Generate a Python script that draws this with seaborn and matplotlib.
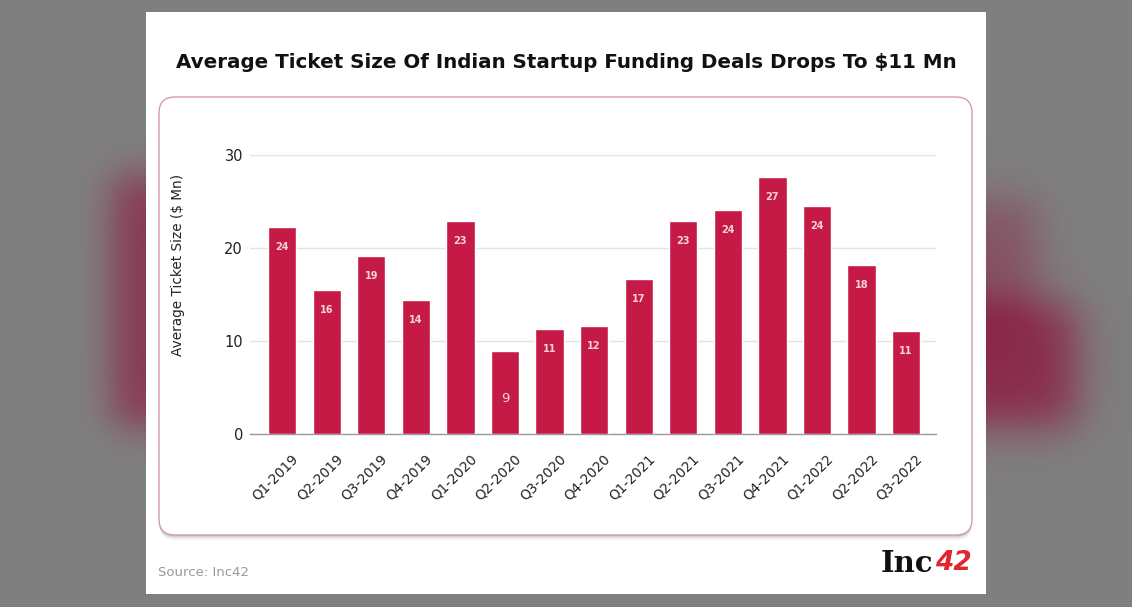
import numpy as np
import pandas as pd
import matplotlib
matplotlib.use("Agg")
import matplotlib.pyplot as plt
import matplotlib.patches as mpatches
from matplotlib.transforms import ScaledTranslation
import seaborn as sns

# data
quarters = ["Q1-2019", "Q2-2019", "Q3-2019", "Q4-2019", "Q1-2020", "Q2-2020", "Q3-2020",
            "Q4-2020", "Q1-2021", "Q2-2021", "Q3-2021", "Q4-2021", "Q1-2022", "Q2-2022", "Q3-2022"]
bar_heights = [22.3, 15.5, 19.1, 14.4, 22.9, 8.9, 11.3, 11.6, 16.7, 22.9, 24.1, 27.6, 24.5, 18.2, 11.1]
bar_labels = ["24", "16", "19", "14", "23", "9", "11", "12", "17", "23", "24", "27", "24", "18", "11"]

title = "Average Ticket Size Of Indian Startup Funding Deals Drops To $11 Mn"
ylabel = "Average Ticket Size ($ Mn)"
source = "Source: Inc42"

BAR = "#c41a45"
W, H = 1132, 607

sns.set_theme(style="white")
plt.rcParams["font.family"] = ["DejaVu Sans"]

fig = plt.figure(figsize=(W / 100, H / 100), dpi=100)

# background layer in pixel coords
bg = fig.add_axes([0, 0, 1, 1])
bg.set_xlim(0, W)
bg.set_ylim(H, 0)
bg.axis("off")

yy, xx = np.mgrid[0:H, 0:W]
def soft_box(x0, x1, y0, y1, s):
    sx = 1 / (1 + np.exp(-(xx - x0) / s)) * 1 / (1 + np.exp((xx - x1) / s))
    sy = 1 / (1 + np.exp(-(yy - y0) / s)) * 1 / (1 + np.exp((yy - y1) / s))
    return sx * sy
gray = np.array([0.5, 0.5, 0.5])
red = np.array([0.55, 0.11, 0.26])
m = np.clip(0.7 * soft_box(112, 300, 175, 425, 11)
            + 0.45 * soft_box(900, 1035, 200, 320, 13)
            + 0.85 * soft_box(900, 1075, 305, 425, 13), 0, 1)
img = gray[None, None, :] * (1 - m[..., None]) + red[None, None, :] * m[..., None]
bg.imshow(img, extent=(0, W, H, 0), aspect="auto", zorder=0)

# white card
bg.add_patch(mpatches.Rectangle((146, 12), 840, 582, facecolor="white", edgecolor="none", zorder=1))
# inner rounded panel with soft shadow
for k, a in [(5, 0.05), (3, 0.08), (1.5, 0.12)]:
    bg.add_patch(mpatches.FancyBboxPatch((159, 97 + k), 813, 438, boxstyle="round,pad=0,rounding_size=16",
                                         facecolor="black", edgecolor="none", alpha=a, zorder=2))
bg.add_patch(mpatches.FancyBboxPatch((159, 97), 813, 438, boxstyle="round,pad=0,rounding_size=16",
                                     facecolor="white", edgecolor="#d59aad", linewidth=1.0, zorder=3))

bg.text(566, 62, title, ha="center", va="center", fontsize=14.3, fontweight="bold", color="#111111", zorder=4)
bg.text(158, 573, source, ha="left", va="center", fontsize=9.5, color="#9a9a9a", zorder=4)
bg.text(933, 563, "Inc", ha="right", va="center", fontsize=21, fontweight="bold",
        family="DejaVu Serif", color="#111111", zorder=4)
bg.text(935, 563, "42", ha="left", va="center", fontsize=19, fontweight="bold", style="italic",
        color="#e0262e", zorder=4)

# chart
ax = fig.add_axes([250 / W, 1 - 434 / H, 686 / W, 279 / H])
ax.patch.set_alpha(0)
df = pd.DataFrame({"quarter": quarters, "value": bar_heights})
sns.barplot(data=df, x="quarter", y="value", color=BAR, saturation=1, width=0.635, ax=ax, zorder=3)

ax.set_xlim(-0.72, 14.67)
ax.set_ylim(0, 30)
ax.set_yticks([0, 10, 20, 30])
ax.yaxis.grid(True, color="#e3e3e3", linewidth=1)
ax.set_axisbelow(True)
for s in ["top", "right", "left"]:
    ax.spines[s].set_visible(False)
ax.spines["bottom"].set_color("#9a9a9a")
ax.spines["bottom"].set_linewidth(1)
ax.tick_params(axis="both", length=0)
ax.tick_params(axis="y", pad=5, labelsize=10.5, labelcolor="#222222")
ax.set_xlabel("")
ax.set_ylabel(ylabel, fontsize=9.8, color="#222222")
ax.yaxis.set_label_coords(-0.095, 0.606)
ax.set_xticks(range(len(quarters)))
ax.set_xticklabels(quarters, rotation=45, ha="right", rotation_mode="anchor", fontsize=9.8, color="#222222")
for lab in ax.get_xticklabels():
    lab.set_transform(lab.get_transform() + ScaledTranslation(6.5 / 72, -9 / 72, fig.dpi_scale_trans))

for i, (h, t) in enumerate(zip(bar_heights, bar_labels)):
    if float(t) < 10:
        ax.text(i, h / 2 - 0.6, t, ha="center", va="center", fontsize=9.5, color="#f6d3dc", zorder=4)
    else:
        ax.annotate(t, (i, h), xytext=(0, -20), textcoords="offset pixels",
                    ha="center", va="center", fontsize=7, fontweight="bold", color="#f6d3dc", zorder=4)

fig.savefig("out.png", dpi=100)
